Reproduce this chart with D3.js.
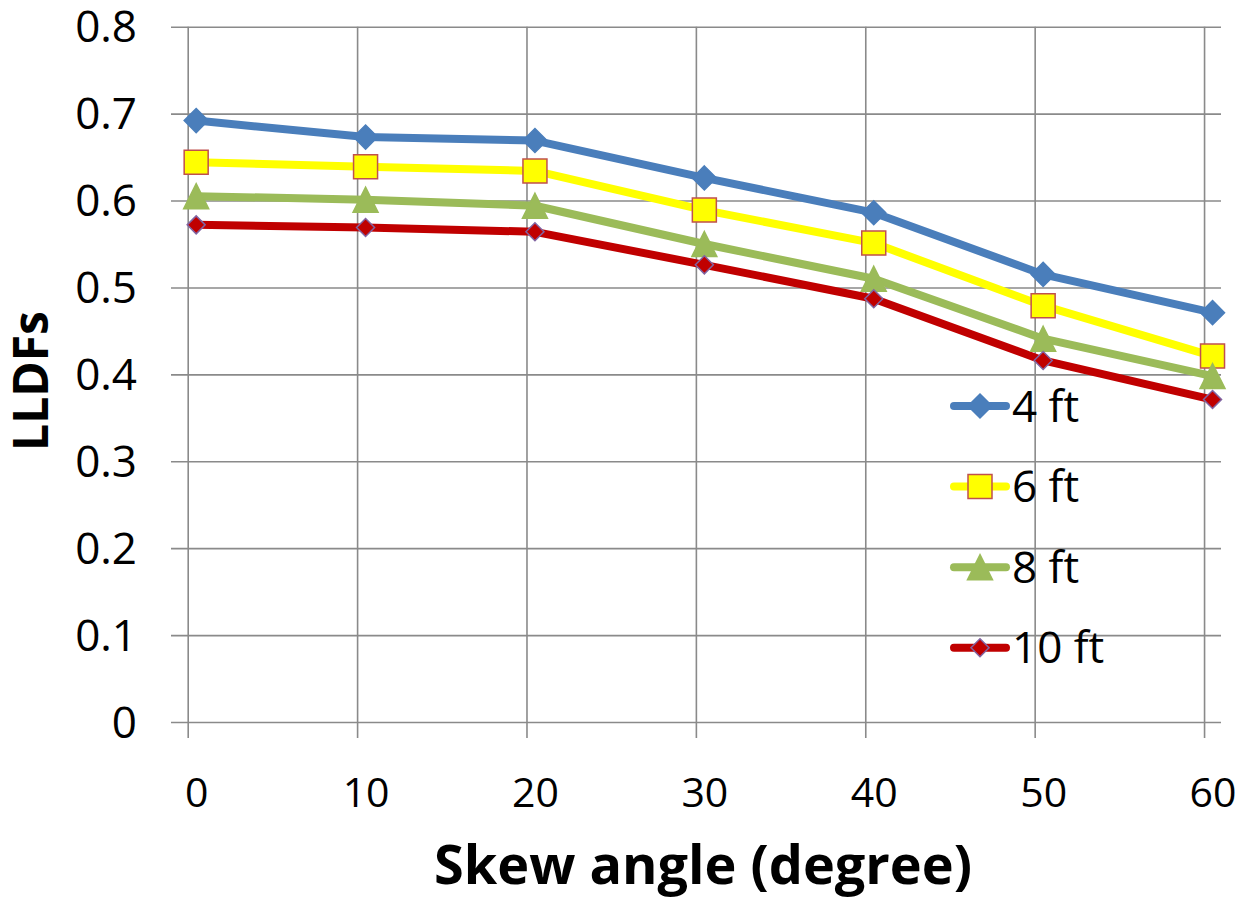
<!DOCTYPE html>
<html>
<head>
<meta charset="utf-8">
<script src="https://cdn.jsdelivr.net/npm/d3@7"></script>
<style>
  body { margin: 0; background: #fff; }
  svg { display: block; }
  svg text { font-family: "Open Sans", sans-serif; fill: #000; }
  .tick line { stroke: #8a8a8a; stroke-width: 1.6; }
  .domain { display: none; }
</style>
</head>
<body>
<svg id="graph" width="1243" height="903"></svg>
<script>
/*************************************************/
// Data

var skewAngles = [0, 10, 20, 30, 40, 50, 60];
var yTicks = [0, 0.1, 0.2, 0.3, 0.4, 0.5, 0.6, 0.7, 0.8];
var seriesNames = ['4 ft', '6 ft', '8 ft', '10 ft'];

var lldf4ft  = [0.692, 0.673, 0.669, 0.626, 0.586, 0.515, 0.471];
var lldf6ft  = [0.644, 0.639, 0.634, 0.589, 0.551, 0.479, 0.421];
var lldf8ft  = [0.605, 0.601, 0.594, 0.550, 0.510, 0.441, 0.398];
var lldf10ft = [0.572, 0.569, 0.564, 0.526, 0.487, 0.416, 0.371];

/*************************************************/

var svg = d3.select('#graph');
var plotLeft = 187.7, plotRight = 1221, plotTop = 26.7, plotBottom = 722;

var xScale = d3.scaleLinear().domain([-0.5, 60.5]).range([plotLeft, plotRight]);
var yScale = d3.scaleLinear().domain([0, 0.8]).range([plotBottom, plotTop]);

var series = [
  { name: seriesNames[0], values: lldf4ft,  line: '#4a7ebb', fill: '#4a7ebb', stroke: '#4a7ebb', shape: 'diamond', size: 12 },
  { name: seriesNames[1], values: lldf6ft,  line: '#ffff00', fill: '#ffff00', stroke: '#c0504d', shape: 'square',  size: 12 },
  { name: seriesNames[2], values: lldf8ft,  line: '#9bbb59', fill: '#9bbb59', stroke: '#9bbb59', shape: 'triangle', size: 12.5 },
  { name: seriesNames[3], values: lldf10ft, line: '#c00000', fill: '#c00000', stroke: '#8064a2', shape: 'diamond', size: 9 }
];

function markerPath(shape, s){
  if(shape == 'diamond') return 'M0,' +(-s)+ 'L' +s+ ',0L0,' +s+ 'L' +(-s)+ ',0Z';
  if(shape == 'square') return 'M' +(-s)+ ',' +(-s)+ 'H' +s+ 'V' +s+ 'H' +(-s)+ 'Z';
  return 'M0,' +(-s)+ 'L' +s+ ',' +s+ 'L' +(-s)+ ',' +s+ 'Z';
}

// horizontal grid + y labels
svg.append('g').attr('transform', 'translate(' +plotRight+ ',0)')
   .call(d3.axisLeft(yScale).tickValues(yTicks).tickSize(plotRight - 171).tickPadding(34).tickFormat(d3.format('.1~f')))
   .call(g => g.selectAll('text').attr('dy', null).attr('y', 15).style('font-size', '44px'));

// vertical grid (ticks sit half a unit left of the points)
svg.append('g').attr('transform', 'translate(0,' +plotTop+ ')')
   .call(d3.axisBottom(xScale).tickValues(skewAngles.map(d => d - 0.5)).tickSize(738 - plotTop).tickFormat(''));

// x labels
svg.append('g').attr('transform', 'translate(0,' +plotBottom+ ')')
   .call(d3.axisBottom(xScale).tickValues(skewAngles).tickSize(0).tickFormat(d3.format('d')))
   .call(g => g.selectAll('text').attr('dy', null).attr('y', 85).style('font-size', '41px'));

// lines and markers
var lineGen = d3.line().x((d, i) => xScale(skewAngles[i])).y(d => yScale(d));

series.forEach(function(s){
  svg.append('path').attr('d', lineGen(s.values))
     .style('fill', 'none').style('stroke', s.line).style('stroke-width', 8).style('stroke-linejoin', 'round');
});
series.forEach(function(s){
  svg.append('g').selectAll('path').data(s.values).enter().append('path')
     .attr('d', markerPath(s.shape, s.size))
     .attr('transform', (d, i) => 'translate(' +xScale(skewAngles[i])+ ',' +yScale(d)+ ')')
     .style('fill', s.fill).style('stroke', s.stroke).style('stroke-width', 1.5);
});

// legend
var legend = svg.append('g').attr('transform', 'translate(950,406)');
var rows = legend.selectAll('g').data(series).enter().append('g')
  .attr('transform', (d, i) => 'translate(0,' +(i * 80.6)+ ')');
rows.append('line').attr('x1', 4).attr('x2', 56).attr('y1', 0).attr('y2', 0)
    .style('stroke', d => d.line).style('stroke-width', 8).style('stroke-linecap', 'round');
rows.append('path').attr('d', d => markerPath(d.shape, d.size))
    .attr('transform', 'translate(30,0)')
    .style('fill', d => d.fill).style('stroke', d => d.stroke).style('stroke-width', 1.5);
rows.append('text').attr('x', 62).attr('y', 15.5).style('font-size', '44px').text(d => d.name);

// axis titles
svg.append('text').attr('x', 703).attr('y', 884).attr('text-anchor', 'middle')
   .style('font-size', '54px').style('font-weight', 'bold').text('Skew angle (degree)');
svg.append('g').attr('transform', 'translate(48,381) rotate(-90)')
   .append('text').attr('text-anchor', 'middle')
   .style('font-size', '48px').style('font-weight', 'bold').text('LLDFs');
</script>
</body>
</html>
